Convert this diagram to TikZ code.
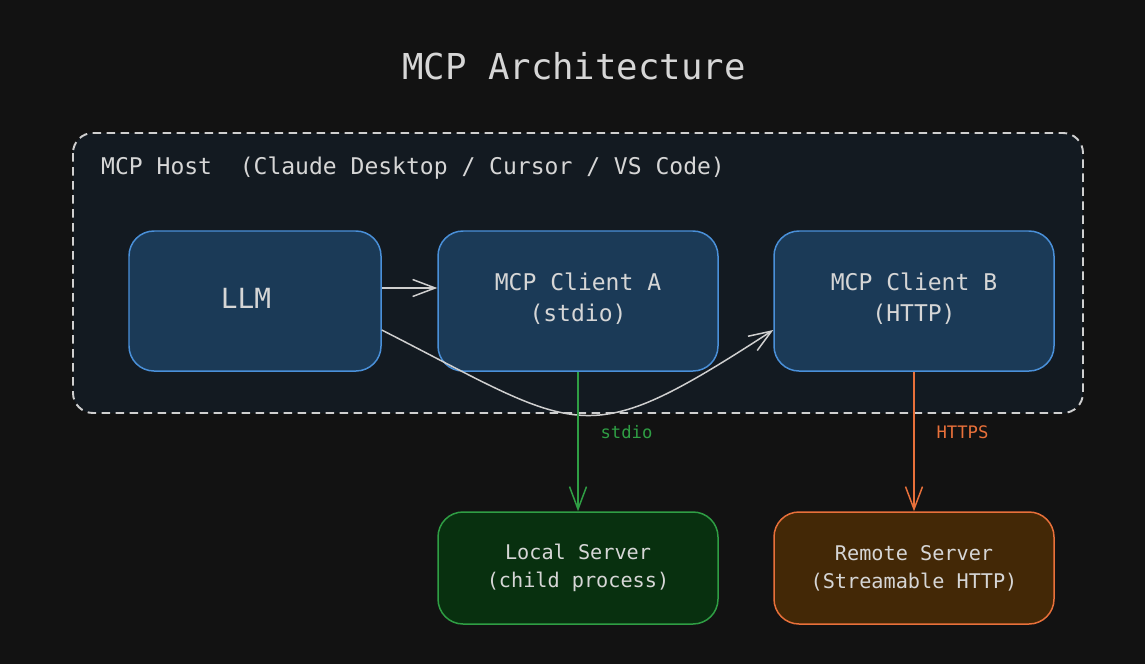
\documentclass[tikz,border=0pt]{standalone}
\usepackage{fontspec}
\setmonofont{DejaVu Sans Mono}
\usetikzlibrary{arrows.meta}

\definecolor{bgcol}{HTML}{121212}
\definecolor{hostfill}{HTML}{131A21}
\definecolor{hostline}{HTML}{CFCFCF}
\definecolor{clientfill}{HTML}{1B3A57}
\definecolor{clientline}{HTML}{4A90D9}
\definecolor{localfill}{HTML}{08300F}
\definecolor{localline}{HTML}{2F9E44}
\definecolor{remotefill}{HTML}{432806}
\definecolor{remoteline}{HTML}{E8703A}
\definecolor{textcol}{HTML}{D6D6D6}

\begin{document}
\begin{tikzpicture}[
    font=\ttfamily, text=textcol,
    box/.style={draw, line width=0.85pt, rounded corners=0.5cm, align=center},
    clientbox/.style={box, fill=clientfill, draw=clientline, minimum width=5.6cm, minimum height=2.8cm,
      font=\ttfamily\fontsize{13.1}{17.6}\selectfont, text depth=0.16cm},
    serverbox/.style={box, minimum width=5.6cm, minimum height=2.24cm,
      font=\ttfamily\fontsize{11.5}{15.9}\selectfont},
    link/.style={line width=0.85pt, -{Straight Barb[length=4.5mm,width=3.4mm,line width=0.85pt]}},
    tag/.style={font=\ttfamily\fontsize{9.8}{12}\selectfont, anchor=west}
  ]
  \useasboundingbox (0,0) rectangle (22.9,-13.28);
  \fill[bgcol] (0,0) rectangle (22.9,-13.28);

  \node[font=\ttfamily\fontsize{20.3}{24}\selectfont] (title) at (11.48,-1.32) {MCP Architecture};

  \draw[hostline, fill=hostfill, line width=1.1pt, dash pattern=on 0.17cm off 0.11cm, rounded corners=0.4cm]
    (1.46,-2.66) rectangle (21.66,-8.26);
  \node[anchor=west, font=\ttfamily\fontsize{13.1}{16}\selectfont] (hostlabel) at (1.90,-3.36)
    {MCP Host\ \ (Claude Desktop / Cursor / VS Code)};

  \node[clientbox, minimum width=5.04cm, text depth=0.1cm, font=\ttfamily\fontsize{15.8}{19}\selectfont] (llm) at (5.10,-6.02) {LLM\hspace{0.36cm}};
  \node[clientbox] (clientA) at (11.56,-6.02) {MCP Client A\\(stdio)};
  \node[clientbox] (clientB) at (18.28,-6.02) {MCP Client B\\(HTTP)};

  \node[serverbox, fill=localfill, draw=localline] (localsrv) at (11.56,-11.36) {Local Server\\(child process)};
  \node[serverbox, fill=remotefill, draw=remoteline] (remotesrv) at (18.28,-11.36) {Remote Server\\(Streamable HTTP)};

  \draw[link, hostline] ([yshift=0.26cm]llm.east) -- ([yshift=0.26cm]clientA.west);
  \draw[link, hostline] ([yshift=-0.58cm]llm.east) .. controls (11.68,-8.66) and (11.64,-9.08) .. ([yshift=-0.58cm]clientB.west);

  \draw[link, localline] (clientA.south) -- node[tag, text=localline, pos=0.43, xshift=0.32cm] (stdiotag) {stdio} (localsrv.north);
  \draw[link, remoteline] (clientB.south) -- node[tag, text=remoteline, pos=0.43, xshift=0.32cm] (httpstag) {HTTPS} (remotesrv.north);
\end{tikzpicture}
\end{document}
